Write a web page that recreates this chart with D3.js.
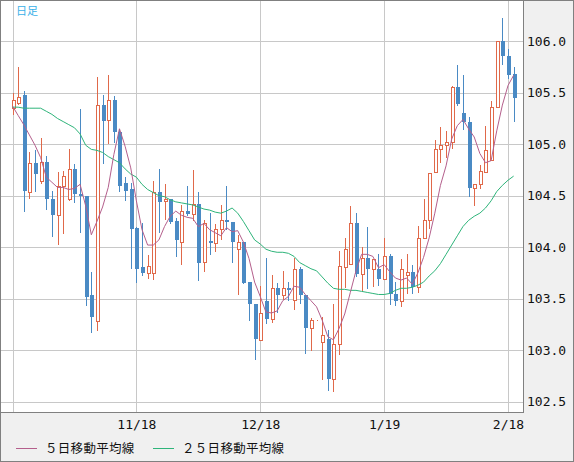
<!DOCTYPE html>
<html>
<head>
<meta charset="utf-8">
<script src="https://cdn.jsdelivr.net/npm/d3@7"></script>
<style>
  html, body { margin: 0; padding: 0; background: #f0f0f0; }
  svg { display: block; }
</style>
</head>
<body>
<div id="chart"></div>
<script>
// daily candles, index 0 .. 89
const opens = [105.35,105.40,105.48,104.54,104.82,104.64,104.83,104.47,104.31,104.59,
  104.47,104.76,104.52,104.50,103.53,103.28,105.38,105.24,105.43,105.12,
  104.62,104.56,104.19,103.81,103.75,103.75,104.54,104.45,104.47,104.25,
  104.05,104.35,104.32,104.42,103.86,104.06,104.04,104.18,104.26,104.24,
  103.98,104.05,103.66,103.45,103.10,103.48,103.30,103.60,103.53,103.60,
  103.49,103.79,103.53,103.21,103.29,103.08,103.11,102.72,103.06,103.81,
  103.84,104.23,103.74,103.89,103.79,103.79,103.69,103.91,103.54,103.48,
  103.73,103.76,103.61,104.09,104.26,104.73,104.95,104.99,105.02,105.56,
  105.30,105.22,104.57,104.61,104.73,104.85,105.36,106.00,105.86,105.68];
const highs = [105.50,105.75,105.52,104.92,104.94,105.06,104.89,104.55,104.73,104.74,
  104.95,104.81,105.34,104.50,103.76,105.65,105.48,105.67,105.47,105.15,
  104.68,104.62,104.20,104.23,103.92,104.64,104.76,104.61,104.47,104.28,
  104.41,104.59,104.75,104.54,104.26,104.33,104.22,104.41,104.59,104.24,
  104.12,104.05,103.66,103.45,103.62,103.89,103.73,103.65,103.77,103.66,
  103.89,103.81,103.53,103.31,103.29,103.32,103.19,103.45,103.96,104.09,
  104.40,104.33,104.00,104.20,103.88,103.93,104.09,103.93,103.66,103.88,
  103.93,103.83,104.21,104.47,104.72,105.04,105.17,105.13,105.57,105.77,
  105.67,105.26,104.61,104.80,105.18,105.42,106.00,106.23,105.93,105.75];
const lows = [105.29,105.39,104.35,104.48,104.55,104.62,104.37,104.11,104.03,104.14,
  104.46,104.44,104.15,103.44,103.18,103.19,104.82,105.01,105.02,104.55,
  104.46,103.80,103.66,103.73,103.70,103.69,104.15,104.27,104.23,103.91,
  103.84,104.31,104.26,103.68,103.77,103.93,103.96,104.08,104.18,103.86,
  103.54,103.65,103.29,102.91,103.10,103.26,103.27,103.37,103.50,103.49,
  103.40,103.46,102.97,103.00,103.29,102.72,102.61,102.60,102.96,103.61,
  103.84,103.72,103.57,103.60,103.62,103.63,103.69,103.45,103.44,103.43,
  103.55,103.55,103.56,104.09,104.19,104.73,104.83,104.88,104.96,105.38,
  105.15,104.50,104.41,104.57,104.73,104.85,105.36,105.78,105.64,105.23];
const closes = [105.43,105.46,104.55,104.82,104.71,104.83,104.47,104.31,104.59,104.69,
  104.76,104.52,104.50,103.52,103.32,105.38,105.23,105.43,105.12,104.59,
  104.55,104.18,103.79,103.75,103.82,104.54,104.44,104.47,104.24,104.07,
  104.35,104.32,104.42,103.85,104.23,104.04,104.18,104.26,104.24,104.05,
  104.05,103.65,103.45,103.11,103.36,103.30,103.60,103.53,103.60,103.58,
  103.79,103.53,103.21,103.29,103.29,103.15,102.72,103.06,103.82,103.98,
  104.23,103.74,103.89,103.79,103.88,103.69,103.91,103.54,103.48,103.79,
  103.76,103.61,104.09,104.26,104.72,104.95,104.99,105.02,105.56,105.39,
  105.22,104.57,104.61,104.74,104.94,105.36,106.00,105.86,105.67,105.45];

// moving averages as drawn
const ma5 = [105.37,105.28,105.19,105.09,104.99,104.87,104.68,104.63,104.58,104.58,
  104.56,104.57,104.61,104.40,104.12,104.25,104.39,104.58,104.90,105.15,
  104.98,104.77,104.45,104.17,104.02,104.02,104.07,104.20,104.30,104.35,
  104.31,104.29,104.28,104.20,104.23,104.17,104.14,104.11,104.19,104.15,
  104.16,104.05,103.89,103.66,103.52,103.37,103.36,103.38,103.48,103.52,
  103.62,103.61,103.54,103.48,103.42,103.29,103.13,103.10,103.21,103.35,
  103.56,103.77,103.93,103.93,103.91,103.80,103.83,103.76,103.70,103.68,
  103.70,103.64,103.75,103.90,104.09,104.33,104.60,104.79,105.05,105.18,
  105.24,105.15,105.07,104.91,104.82,104.84,105.13,105.38,105.57,105.67];
const ma25 = [105.36,105.36,105.35,105.35,105.35,105.35,105.32,105.29,105.25,105.22,
  105.19,105.16,105.10,104.99,104.95,104.94,104.92,104.88,104.85,104.82,
  104.76,104.71,104.68,104.61,104.56,104.53,104.50,104.49,104.46,104.44,
  104.43,104.42,104.41,104.39,104.37,104.36,104.34,104.33,104.35,104.38,
  104.33,104.25,104.16,104.07,104.03,103.98,103.96,103.95,103.95,103.94,
  103.91,103.85,103.82,103.79,103.77,103.71,103.65,103.60,103.59,103.59,
  103.58,103.58,103.57,103.56,103.55,103.54,103.54,103.55,103.58,103.60,
  103.60,103.61,103.63,103.66,103.72,103.77,103.84,103.93,104.02,104.11,
  104.20,104.26,104.30,104.33,104.38,104.45,104.54,104.60,104.65,104.69];

const gridIndex = [0, 22, 44, 66, 88];
const dateLabels = ["", "11/18", "12/18", "1/19", "2/18"];
const priceTicks = [102.5, 103.0, 103.5, 104.0, 104.5, 105.0, 105.5, 106.0];
const legendNames = ["５日移動平均線", "２５日移動平均線"];

const width = 574, height = 462;
const plotRight = 523, plotBottom = 412;
const upColor = "#e0694a", downColor = "#4a8ac4";
const ma5Color = "#b45f8c", ma25Color = "#2eb47a";
const monoFont = "'DejaVu Sans Mono', monospace";

const svg = d3.select("#chart")
  .append("svg")
  .attr("width", width)
  .attr("height", height);

svg.append("rect")
  .attr("x", 0.5).attr("y", 0.5)
  .attr("width", width - 1).attr("height", height - 1)
  .attr("fill", "#f0f0f0")
  .attr("stroke", "#808080");

svg.append("rect")
  .attr("x", 0.5).attr("y", 0.5)
  .attr("width", plotRight).attr("height", plotBottom)
  .attr("fill", "#fff")
  .attr("stroke", "#808080");

svg.append("defs").append("clipPath")
  .attr("id", "plot-clip")
  .append("rect")
  .attr("x", 1).attr("y", 1)
  .attr("width", plotRight - 1).attr("height", plotBottom - 1);

const x = d3.scaleLinear().domain([0, 88]).range([12.5, 508]);
const y = d3.scaleLinear().domain([102.5, 106]).range([401.5, 41.3]);
const px = v => Math.round(v);

// grid
const grid = svg.append("g").attr("stroke", "#c8c8c8").attr("stroke-width", 1);
grid.selectAll("line.h")
  .data(priceTicks)
  .join("line")
  .attr("class", "h")
  .attr("x1", 1).attr("x2", plotRight)
  .attr("y1", d => px(y(d)) + 0.5).attr("y2", d => px(y(d)) + 0.5);
grid.selectAll("line.v")
  .data(gridIndex)
  .join("line")
  .attr("class", "v")
  .attr("y1", 1).attr("y2", plotBottom)
  .attr("x1", d => px(x(d)) + 0.5).attr("x2", d => px(x(d)) + 0.5);

// candles
const plot = svg.append("g").attr("clip-path", "url(#plot-clip)");
const candles = plot.selectAll("g.candle")
  .data(d3.range(opens.length))
  .join("g")
  .attr("class", "candle");

candles.append("line")
  .attr("x1", i => px(x(i)) + 0.5).attr("x2", i => px(x(i)) + 0.5)
  .attr("y1", i => px(y(highs[i])))
  .attr("y2", i => px(y(lows[i])) + 1)
  .attr("stroke", i => closes[i] >= opens[i] ? upColor : downColor);

candles.append("rect")
  .each(function (i) {
    const up = closes[i] >= opens[i];
    const top = px(y(Math.max(opens[i], closes[i])));
    const bot = px(y(Math.min(opens[i], closes[i])));
    const cx = px(x(i));
    const r = d3.select(this);
    if (up) {
      r.attr("x", cx - 0.5).attr("y", top + 0.5)
        .attr("width", 3).attr("height", Math.max(0, bot - top))
        .attr("fill", "#fff").attr("stroke", upColor);
    } else {
      r.attr("x", cx - 1).attr("y", top)
        .attr("width", 4).attr("height", Math.max(1, bot - top))
        .attr("fill", downColor);
    }
  });

// moving averages
const line = d3.line().x((d, i) => x(i)).y(d => y(d));
plot.append("path")
  .datum(ma25)
  .attr("d", line)
  .attr("fill", "none")
  .attr("stroke", ma25Color);
plot.append("path")
  .datum(ma5)
  .attr("d", line)
  .attr("fill", "none")
  .attr("stroke", ma5Color);

// price axis
const yAxis = svg.append("g")
  .attr("transform", `translate(${plotRight},0)`)
  .call(d3.axisRight(y).tickValues(priceTicks).tickFormat(d3.format(".1f")).tickSize(0).tickPadding(4));
yAxis.select(".domain").remove();
yAxis.selectAll("text")
  .attr("font-family", monoFont)
  .attr("font-size", 13)
  .attr("fill", "#111");

// date axis
const xAxis = svg.append("g")
  .attr("transform", `translate(0,${plotBottom})`)
  .call(d3.axisBottom(x).tickValues(gridIndex.slice(1))
    .tickFormat((d, i) => dateLabels[i + 1]).tickSize(0).tickPadding(8));
xAxis.select(".domain").remove();
xAxis.selectAll("text")
  .attr("font-family", monoFont)
  .attr("font-size", 13)
  .attr("fill", "#111");

// title
svg.append("text")
  .attr("x", 16).attr("y", 15)
  .attr("font-family", "'Noto Sans CJK JP', sans-serif")
  .attr("font-size", 11)
  .attr("fill", "#3ab0e8")
  .text("日足");

// legend
const legend = svg.append("g").attr("transform", "translate(0,448.5)");
[[16, 45, ma5Color], [153, 182, ma25Color]].forEach(([lx, tx, color], k) => {
  legend.append("line")
    .attr("x1", lx).attr("x2", lx + 21)
    .attr("stroke", color);
  legend.append("text")
    .attr("x", tx).attr("y", 0)
    .attr("dy", "0.36em")
    .attr("font-family", "'Noto Sans CJK JP', sans-serif")
    .attr("font-size", 12.5)
    .attr("letter-spacing", 0.3)
    .attr("fill", "#111")
    .text(legendNames[k]);
});
</script>
</body>
</html>
